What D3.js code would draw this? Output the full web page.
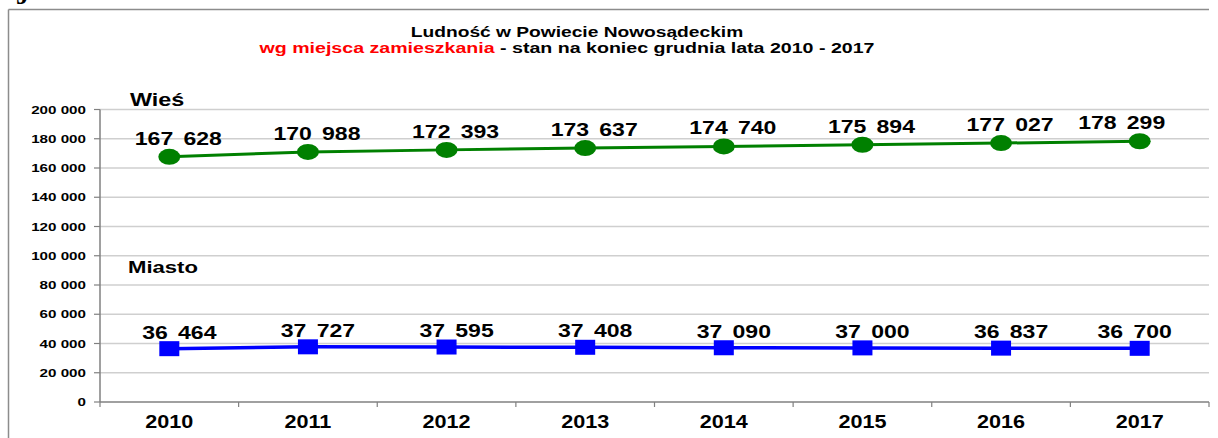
<!DOCTYPE html>
<html>
<head>
<meta charset="utf-8">
<script src="https://cdn.jsdelivr.net/npm/d3@7"></script>
<style>
  body { margin: 0; background: #fff; }
  svg text { font-family: "Liberation Sans", Arial, sans-serif; font-weight: bold; }
</style>
</head>
<body>
<svg width="1218" height="438"></svg>
<script>

// data
const years = ["2010", "2011", "2012", "2013", "2014", "2015", "2016", "2017"];
const wies = [167628, 170988, 172393, 173637, 174740, 175894, 177027, 178299];
const miasto = [36464, 37727, 37595, 37408, 37090, 37000, 36837, 36700];
const yTicks = [0, 20000, 40000, 60000, 80000, 100000, 120000, 140000, 160000, 180000, 200000];

const svg = d3.select("svg");

// text in the original is stretched horizontally
function stretched(g, x, y, sx) {
  return g.append("text").attr("transform", `translate(${x},${y}) scale(${sx},1)`);
}

// frame
svg.append("line").attr("x1", 8.5).attr("x2", 1209).attr("y1", 9.5).attr("y2", 9.5)
  .style("stroke", "#8c8c8c").style("stroke-width", 1.5);
svg.append("line").attr("x1", 8.5).attr("x2", 8.5).attr("y1", 9.5).attr("y2", 438)
  .style("stroke", "#8c8c8c").style("stroke-width", 1.5);

// cut off letter from the page above
svg.append("text").attr("x", 16).attr("y", 4)
  .style("font-family", "'Liberation Serif', serif").style("font-size", "26px").text("J");

const x = d3.scaleBand().domain(years).range([100, 1209]);
const y = d3.scaleLinear().domain([0, 200000]).range([402, 109.5]);

// grid
svg.selectAll(".grid").data(yTicks.filter(d => d > 0)).enter().append("line")
  .attr("class", "grid")
  .attr("x1", 100).attr("x2", 1209)
  .attr("y1", d => y(d)).attr("y2", d => y(d))
  .style("stroke", "#cfcfcf").style("stroke-width", 1.5);

// y axis
svg.append("line").attr("x1", 100).attr("x2", 100).attr("y1", y(200000)).attr("y2", y(0))
  .style("stroke", "#808080").style("stroke-width", 1.5);
svg.selectAll(".ytick").data(yTicks).enter().append("line")
  .attr("class", "ytick")
  .attr("x1", 94).attr("x2", 100)
  .attr("y1", d => y(d)).attr("y2", d => y(d))
  .style("stroke", "#808080").style("stroke-width", 1.2);

const fmtTick = d => d === 0 ? "0" : d3.format(",")(d).replace(/,/g, " ");
yTicks.forEach(d => {
  stretched(svg, 86, y(d) + 4, 1.38)
    .attr("text-anchor", "end")
    .style("font-size", "11px")
    .style("fill", "#000")
    .text(fmtTick(d));
});

// x axis
svg.append("line").attr("x1", 100).attr("x2", 1209).attr("y1", y(0)).attr("y2", y(0))
  .style("stroke", "#808080").style("stroke-width", 1.5);
const boundaries = years.map(d => x(d)).concat([x.range()[1]]);
svg.selectAll(".xtick").data(boundaries).enter().append("line")
  .attr("class", "xtick")
  .attr("x1", d => d).attr("x2", d => d)
  .attr("y1", y(0)).attr("y2", y(0) + 5)
  .style("stroke", "#808080").style("stroke-width", 1.2);

years.forEach(d => {
  stretched(svg, x(d) + x.bandwidth() / 2, 428, 1.2)
    .attr("text-anchor", "middle")
    .style("font-size", "18px")
    .text(d);
});

// titles
stretched(svg, 577, 37, 1.37)
  .attr("text-anchor", "middle")
  .style("font-size", "14px")
  .text("Ludność w Powiecie Nowosądeckim");

const sub = stretched(svg, 567, 53, 1.4)
  .attr("text-anchor", "middle")
  .style("font-size", "14px");
sub.append("tspan").style("fill", "#ff0000").text("wg miejsca zamieszkania");
sub.append("tspan").style("fill", "#000").text(" - stan na koniec grudnia lata 2010 - 2017");

stretched(svg, 130, 106, 1.3).style("font-size", "18px").text("Wieś");
stretched(svg, 128, 273, 1.3).style("font-size", "17px").text("Miasto");

// series
const cx = d => x(d) + x.bandwidth() / 2;
const fmtVal = v => d3.format(",")(v).replace(/,/g, "\u00a0");

const line = d3.line().x(d => cx(d.year)).y(d => y(d.value));

const wiesData = years.map((d, i) => ({year: d, value: wies[i]}));
const miastoData = years.map((d, i) => ({year: d, value: miasto[i]}));

svg.append("path").datum(wiesData).attr("d", line)
  .style("fill", "none").style("stroke", "#008000").style("stroke-width", 3);
svg.append("path").datum(miastoData).attr("d", line)
  .style("fill", "none").style("stroke", "#0000ff").style("stroke-width", 3.5);

svg.selectAll(".wies").data(wiesData).enter().append("ellipse")
  .attr("class", "wies")
  .attr("cx", d => cx(d.year)).attr("cy", d => y(d.value))
  .attr("rx", 11).attr("ry", 8)
  .style("fill", "#008000");

svg.selectAll(".miasto").data(miastoData).enter().append("rect")
  .attr("class", "miasto")
  .attr("x", d => cx(d.year) - 10).attr("y", d => y(d.value) - 7.5)
  .attr("width", 20).attr("height", 15)
  .style("fill", "#0000ff");

// value labels
wiesData.forEach((d, i) => {
  const dx = i === years.length - 1 ? -18 : 9;
  stretched(svg, cx(d.year) + dx, y(d.value) - 12, 1.28)
    .attr("text-anchor", "middle")
    .style("font-size", "18px")
    .style("word-spacing", "3px")
    .text(fmtVal(d.value));
});

miastoData.forEach((d, i) => {
  const dx = i === years.length - 1 ? -5 : 10;
  stretched(svg, cx(d.year) + dx, y(d.value) - 10, 1.28)
    .attr("text-anchor", "middle")
    .style("font-size", "18px")
    .style("word-spacing", "3px")
    .text(fmtVal(d.value));
});

</script>
</body>
</html>
